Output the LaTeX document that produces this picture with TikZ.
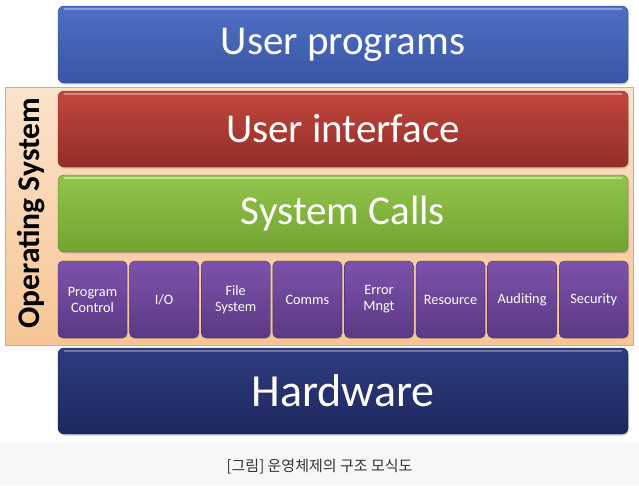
\documentclass[tikz,border=0pt]{standalone}
\usepackage{fontspec}
\setmainfont{Carlito}
\newfontfamily\korfont{Noto Sans CJK KR}
\usetikzlibrary{shadows}

\definecolor{progtop}{HTML}{4D6FC3}
\definecolor{progbot}{HTML}{3A56A3}
\definecolor{uitop}{HTML}{C3473D}
\definecolor{uibot}{HTML}{922D28}
\definecolor{calltop}{HTML}{93C44A}
\definecolor{callbot}{HTML}{72A232}
\definecolor{svctop}{HTML}{7D52AB}
\definecolor{svcbot}{HTML}{5B3985}
\definecolor{hwtop}{HTML}{2E3C80}
\definecolor{hwbot}{HTML}{1E285E}
\definecolor{ostop}{HTML}{FBE3CC}
\definecolor{osbot}{HTML}{F7C594}
\definecolor{osedge}{HTML}{F0A45E}

\tikzset{
  layer/.style={rectangle, rounded corners=6pt, inner sep=0pt,
                minimum width=570pt, text=white, font=\fontsize{41}{44}\selectfont,
                drop shadow={shadow xshift=1pt, shadow yshift=-1.5pt, opacity=0.35}},
  service/.style={rectangle, rounded corners=5pt, inner sep=0pt,
                  minimum width=69pt, minimum height=77pt, align=center,
                  top color=svctop, bottom color=svcbot, draw=svcbot!80!black,
                  text=white, font=\fontsize{14.3}{16}\selectfont,
                  drop shadow={shadow xshift=1pt, shadow yshift=-1pt, opacity=0.3}}
}

\begin{document}
\begin{tikzpicture}%
            [x=1pt, y=-1pt]
            \useasboundingbox (0,0) rectangle (639,485);
            \fill[white] (0,0) rectangle (639,443);
            \fill[black!3] (0,443) rectangle (639,485);

            \node [layer, minimum height=77pt, top color=progtop, bottom color=progbot, draw=progbot!80!black] (progs) at (343,44.5) {User programs};

            \node [rectangle, inner sep=0pt, minimum width=628pt, minimum height=258pt,
                   top color=ostop, bottom color=osbot, draw=osedge, line width=0.8pt] (os) at (319,216) {};
            \node [rotate=90, font=\bfseries\fontsize{31.5}{33}\selectfont] (oslabel) at (31.5,213) {Operating System};

            \node [layer, minimum height=76pt, top color=uitop, bottom color=uibot, draw=uibot!80!black] (ui) at (343,129) {User interface};
            \node [layer, minimum height=77pt, top color=calltop, bottom color=callbot, draw=callbot!80!black] (calls) at (343,213.5) {System Calls};

            \node [service] (ctrl) at (92.5,299.5) {Program\\Control};
            \node [service] (io) at (164.1,299.5) {I/O};
            \node [service] (files) at (235.7,299.5) {File\\System};
            \node [service] (comms) at (307.3,299.5) {Comms};
            \node [service] (err) at (378.9,299.5) {Error\\Mngt};
            \node [service] (res) at (450.5,299.5) {Resource};
            \node [service] (audit) at (522.1,299.5) {Auditing};
            \node [service] (sec) at (593.7,299.5) {Security};

            \node [layer, minimum height=86pt, top color=hwtop, bottom color=hwbot, draw=hwbot!80!black,
                   font=\fontsize{46}{48}\selectfont] (hw) at (343,391) {Hardware};

            % highlight along the top of each box
            \draw [white, opacity=0.35, line width=1.5pt] ([xshift=6pt,yshift=-3pt]progs.north west) -- ([xshift=-6pt,yshift=-3pt]progs.north east);
            \draw [white, opacity=0.35, line width=1.5pt] ([xshift=6pt,yshift=-3pt]ui.north west) -- ([xshift=-6pt,yshift=-3pt]ui.north east);
            \draw [white, opacity=0.45, line width=1.5pt] ([xshift=6pt,yshift=-3pt]calls.north west) -- ([xshift=-6pt,yshift=-3pt]calls.north east);
            \draw [white, opacity=0.3, line width=1.5pt] ([xshift=6pt,yshift=-3pt]hw.north west) -- ([xshift=-6pt,yshift=-3pt]hw.north east);

            \node [text=black!80, font=\korfont\fontsize{15}{17}\selectfont] (caption) at (319.5,467) {[그림] 운영체제의 구조 모식도};
        \end{tikzpicture}
\end{document}
